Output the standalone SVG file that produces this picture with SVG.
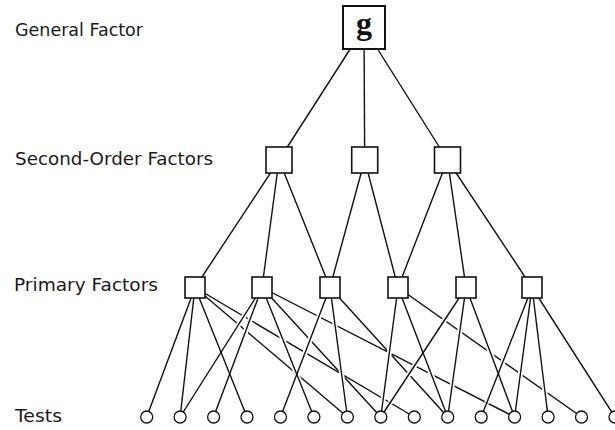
<svg xmlns="http://www.w3.org/2000/svg" width="615" height="430" viewBox="0 0 615 430">
<style>
.lbl{font-family:"DejaVu Sans","Liberation Sans",sans-serif;font-size:17px;fill:#1a1a1a}
.c line{stroke:#111;stroke-width:1.4;fill:none}
.c .halo line{stroke:#fff;stroke-width:5}
.box{fill:#fff;stroke:#111;stroke-width:1.6}
.gbox{fill:#fff;stroke:#111;stroke-width:2}
.test{fill:#fff;stroke:#111;stroke-width:1.3}
.g{font-family:"Liberation Serif","DejaVu Serif",serif;font-weight:bold;font-size:32px;fill:#111}
</style>
<rect width="615" height="430" fill="#fff"/>
<text class="lbl" x="15" y="36" textLength="128" lengthAdjust="spacingAndGlyphs">General Factor</text>
<text class="lbl" x="15" y="165" textLength="198" lengthAdjust="spacingAndGlyphs">Second-Order Factors</text>
<text class="lbl" x="14" y="291" textLength="144" lengthAdjust="spacingAndGlyphs">Primary Factors</text>
<text class="lbl" x="15" y="422" textLength="47" lengthAdjust="spacingAndGlyphs">Tests</text>
<g id="connectors" class="c">
<line x1="364" y1="27.5" x2="279" y2="160"/>
<line x1="364" y1="27.5" x2="364.7" y2="160"/>
<line x1="364" y1="27.5" x2="447.5" y2="160"/>
<line x1="279" y1="160" x2="195" y2="287.5"/>
<line x1="279" y1="160" x2="262" y2="287.5"/>
<line x1="279" y1="160" x2="330" y2="287.5"/>
<line x1="364.7" y1="160" x2="330" y2="287.5"/>
<line x1="364.7" y1="160" x2="398" y2="287.5"/>
<line x1="447.5" y1="160" x2="398" y2="287.5"/>
<line x1="447.5" y1="160" x2="466" y2="287.5"/>
<line x1="447.5" y1="160" x2="532" y2="287.5"/>
<line x1="195" y1="287.5" x2="347.4" y2="417"/>
<line x1="195" y1="287.5" x2="414.3" y2="417"/>
<line x1="262" y1="287.5" x2="380.8" y2="417"/>
<line x1="262" y1="287.5" x2="514.6" y2="417"/>
<line x1="330" y1="287.5" x2="447.7" y2="417"/>
<line x1="398" y1="287.5" x2="581.5" y2="417"/>
<g class="halo">
<line x1="188.1" y1="306" x2="151.9" y2="403"/>
<line x1="192.9" y1="306" x2="181.7" y2="403"/>
<line x1="202.4" y1="306" x2="241.4" y2="403"/>
<line x1="250.3" y1="306" x2="189" y2="403"/>
<line x1="255.1" y1="306" x2="218.8" y2="403"/>
<line x1="269.4" y1="306" x2="308.3" y2="403"/>
<line x1="322.9" y1="306" x2="285.9" y2="403"/>
<line x1="332.5" y1="306" x2="345.5" y2="403"/>
<line x1="395.5" y1="306" x2="382.7" y2="403"/>
<line x1="405.1" y1="306" x2="442.3" y2="403"/>
<line x1="453.8" y1="306" x2="390" y2="403"/>
<line x1="463.4" y1="306" x2="449.7" y2="403"/>
<line x1="472.9" y1="306" x2="509.3" y2="403"/>
<line x1="524.7" y1="306" x2="486.7" y2="403"/>
<line x1="529.5" y1="306" x2="516.5" y2="403"/>
<line x1="534.3" y1="306" x2="546.4" y2="403"/>
</g>
<line x1="195" y1="287.5" x2="146.7" y2="417"/>
<line x1="195" y1="287.5" x2="180.1" y2="417"/>
<line x1="195" y1="287.5" x2="247" y2="417"/>
<line x1="262" y1="287.5" x2="180.1" y2="417"/>
<line x1="262" y1="287.5" x2="213.6" y2="417"/>
<line x1="262" y1="287.5" x2="313.9" y2="417"/>
<line x1="330" y1="287.5" x2="280.5" y2="417"/>
<line x1="330" y1="287.5" x2="347.4" y2="417"/>
<line x1="398" y1="287.5" x2="380.8" y2="417"/>
<line x1="398" y1="287.5" x2="447.7" y2="417"/>
<line x1="466" y1="287.5" x2="380.8" y2="417"/>
<line x1="466" y1="287.5" x2="447.7" y2="417"/>
<line x1="466" y1="287.5" x2="514.6" y2="417"/>
<line x1="532" y1="287.5" x2="481.2" y2="417"/>
<line x1="532" y1="287.5" x2="514.6" y2="417"/>
<line x1="532" y1="287.5" x2="548.1" y2="417"/>
<line x1="532" y1="287.5" x2="615" y2="417"/>
</g>
<g id="node-g"><rect class="gbox" x="343" y="6" width="42" height="43"/><text class="g" x="364" y="34" text-anchor="middle">g</text></g>
<g id="node-so1"><rect class="box" x="266" y="147" width="26" height="26"/></g>
<g id="node-so2"><rect class="box" x="351.7" y="147" width="26" height="26"/></g>
<g id="node-so3"><rect class="box" x="434.5" y="147" width="26" height="26"/></g>
<g id="node-p1"><rect class="box" x="185" y="277" width="20" height="21"/></g>
<g id="node-p2"><rect class="box" x="252" y="277" width="20" height="21"/></g>
<g id="node-p3"><rect class="box" x="320" y="277" width="20" height="21"/></g>
<g id="node-p4"><rect class="box" x="388" y="277" width="20" height="21"/></g>
<g id="node-p5"><rect class="box" x="456" y="277" width="20" height="21"/></g>
<g id="node-p6"><rect class="box" x="522" y="277" width="20" height="21"/></g>
<g id="node-t0"><circle class="test" cx="146.7" cy="417" r="6"/></g>
<g id="node-t1"><circle class="test" cx="180.1" cy="417" r="6"/></g>
<g id="node-t2"><circle class="test" cx="213.6" cy="417" r="6"/></g>
<g id="node-t3"><circle class="test" cx="247" cy="417" r="6"/></g>
<g id="node-t4"><circle class="test" cx="280.5" cy="417" r="6"/></g>
<g id="node-t5"><circle class="test" cx="313.9" cy="417" r="6"/></g>
<g id="node-t6"><circle class="test" cx="347.4" cy="417" r="6"/></g>
<g id="node-t7"><circle class="test" cx="380.8" cy="417" r="6"/></g>
<g id="node-t8"><circle class="test" cx="414.3" cy="417" r="6"/></g>
<g id="node-t9"><circle class="test" cx="447.7" cy="417" r="6"/></g>
<g id="node-t10"><circle class="test" cx="481.2" cy="417" r="6"/></g>
<g id="node-t11"><circle class="test" cx="514.6" cy="417" r="6"/></g>
<g id="node-t12"><circle class="test" cx="548.1" cy="417" r="6"/></g>
<g id="node-t13"><circle class="test" cx="581.5" cy="417" r="6"/></g>
<g id="node-t14"><circle class="test" cx="615" cy="417" r="6"/></g>
</svg>
